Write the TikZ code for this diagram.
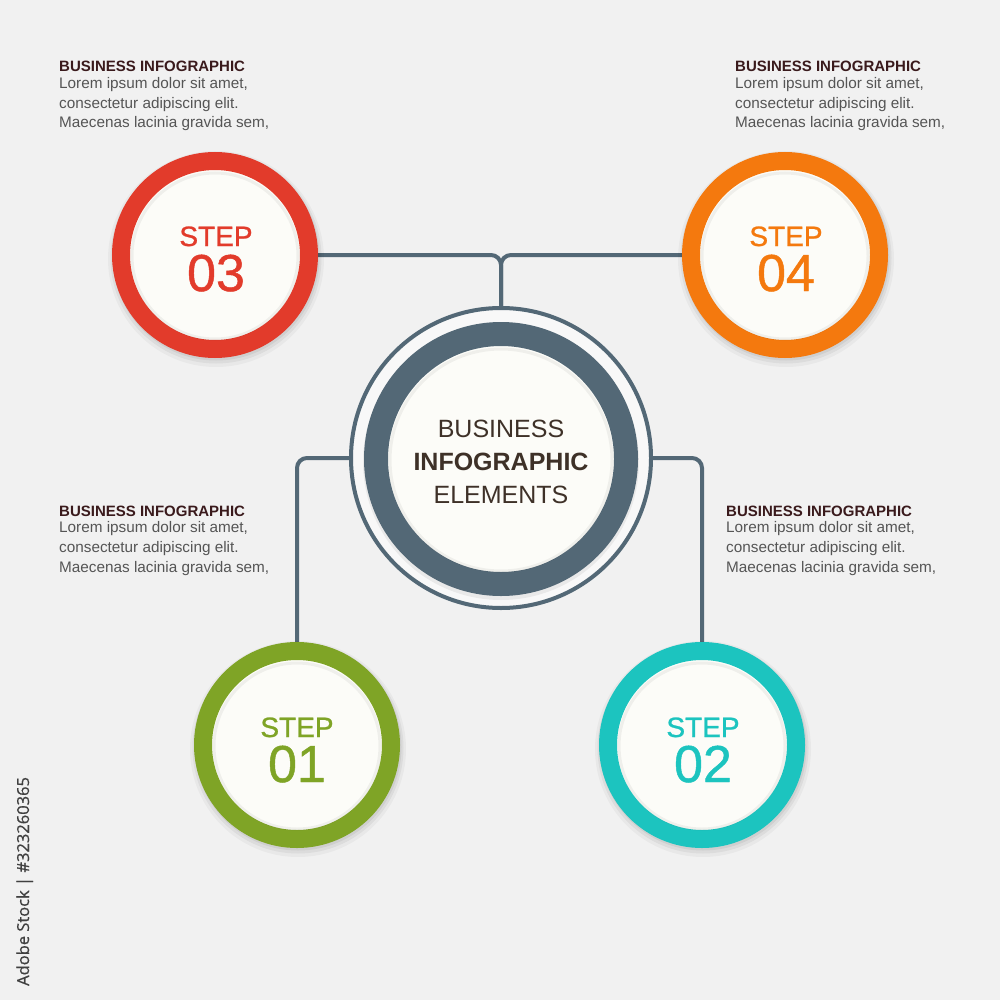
\documentclass[tikz,border=0pt]{standalone}
\usepackage{fontspec}
\setmainfont{Liberation Sans}
\newfontfamily\idfont{Open Sans}[FakeBold=0.6]
\newfontfamily\medfont{Liberation Sans}[FakeBold=0.9]
\usetikzlibrary{backgrounds}
\definecolor{bgcol}{HTML}{F1F1F1}
\definecolor{slate}{HTML}{536876}
\definecolor{innerw}{HTML}{FCFCF8}
\definecolor{redc}{HTML}{E23B2B}
\definecolor{orangec}{HTML}{F4790E}
\definecolor{greenc}{HTML}{7FA426}
\definecolor{tealc}{HTML}{1CC4BF}
\definecolor{titlec}{HTML}{3A1A1C}
\definecolor{bodyc}{HTML}{555555}
\definecolor{centc}{HTML}{3E3128}
\begin{document}
\begin{tikzpicture}[x=1pt,y=-1pt,
  stepring/.style={circle, draw=#1, line width=18pt, fill=innerw, minimum size=188pt, inner sep=0pt},
  steplbl/.style={text=#1, anchor=base, inner sep=0pt, text height=20pt, text depth=0pt, font=\medfont\fontsize{28}{28}\selectfont},
  stepnum/.style={text=#1, anchor=base, inner sep=0pt, text height=37pt, text depth=0pt, font=\medfont\fontsize{52}{52}\selectfont},
  conn/.style={draw=slate, line width=4pt, rounded corners=10pt},
  ttl/.style={anchor=base west, inner sep=0pt, text=titlec, font=\fontsize{15}{15}\selectfont\bfseries},
  bdy/.style={anchor=base west, inner sep=0pt, text=bodyc, font=\fontsize{15.3}{15.3}\selectfont},
  ctxt/.style={anchor=base, inner sep=0pt, text=centc, font=\fontsize{25}{25}\selectfont},
  shad/.style={fill=black, opacity=#1}
]
\useasboundingbox (0,0) rectangle (1000,1000);
\begin{pgfonlayer}{background}
\fill[bgcol] (0,0) rectangle (1000,1000);
\end{pgfonlayer}

% shadows
\foreach \cx/\cy in {215/255, 785/255, 297/745, 702/745}{
  \fill[shad=.035] (\cx+1,\cy+4) circle (108pt);
  \fill[shad=.05] (\cx+1,\cy+3) circle (105.5pt);
  \fill[shad=.06] (\cx+1,\cy+2) circle (103.5pt);
}
\fill[shad=.05] (501,462) circle (140pt);
\fill[shad=.06] (501,461) circle (138pt);

% step circles
\node[stepring=redc] (s3) at (215,255) {};
\node[stepring=orangec] (s4) at (785,255) {};
\node[stepring=greenc] (s1) at (297,745) {};
\node[stepring=tealc] (s2) at (702,745) {};

% inner shading of white discs
\foreach \cx/\cy in {215/255, 785/255, 297/745, 702/745}{
  \draw[black, opacity=.05, line width=3pt] (\cx,\cy+1) circle (83pt);
}

% centre
\node[circle, draw=slate, line width=4pt, fill=bgcol!50!white, minimum size=300pt, inner sep=0pt] (c) at (501,458) {};
\fill[shad=.06] (501,462) circle (138pt);
\node[circle, draw=slate, line width=24pt, fill=innerw, minimum size=250pt, inner sep=0pt] (ci) at (501,459) {};
\draw[black, opacity=.05, line width=3pt] (501,460) circle (111pt);

% connectors
\begin{pgfonlayer}{background}
\draw[conn] (s3.east) -| (c.north);
\draw[conn] (s4.west) -| (c.north);
\draw[conn] (c.west) -| (s1.north);
\draw[conn] (c.east) -| (s2.north);
\end{pgfonlayer}

% step labels
\node[steplbl=redc] (t3a) at (216,246) {STEP};
\node[stepnum=redc] (t3b) at (216,291) {03};
\node[steplbl=orangec] (t4a) at (786,246) {STEP};
\node[stepnum=orangec] (t4b) at (786,291) {04};
\node[steplbl=greenc] (t1a) at (297,737) {STEP};
\node[stepnum=greenc] (t1b) at (297,782) {01};
\node[steplbl=tealc] (t2a) at (703,737) {STEP};
\node[stepnum=tealc] (t2b) at (703,782) {02};

% centre text
\node[ctxt] (ca) at (501,437) {BUSINESS};
\node[ctxt, font=\fontsize{25}{25}\selectfont\bfseries] (cb) at (501,470) {INFOGRAPHIC};
\node[ctxt] (cc) at (501,503) {ELEMENTS};

% text blocks
\foreach \nm/\tx/\ty in {tl/59/72, tr/735/72, ml/59/516, mr/726/516}{
  \node[ttl] (\nm h) at (\tx,\ty) {BUSINESS INFOGRAPHIC};
  \node[bdy] (\nm a) at (\tx,\ty+16.5) {Lorem ipsum dolor sit amet,};
  \node[bdy] (\nm b) at (\tx,\ty+36.2) {consectetur adipiscing elit.};
  \node[bdy] (\nm c) at (\tx,\ty+56) {Maecenas lacinia gravida sem,};
}

% vertical id
\node[rotate=90, anchor=base west, inner sep=0pt, text=black!75, font=\idfont\fontsize{16.5}{16.5}\selectfont] (vid) at (29,986) {Adobe Stock | \#323260365};
\end{tikzpicture}
\end{document}
